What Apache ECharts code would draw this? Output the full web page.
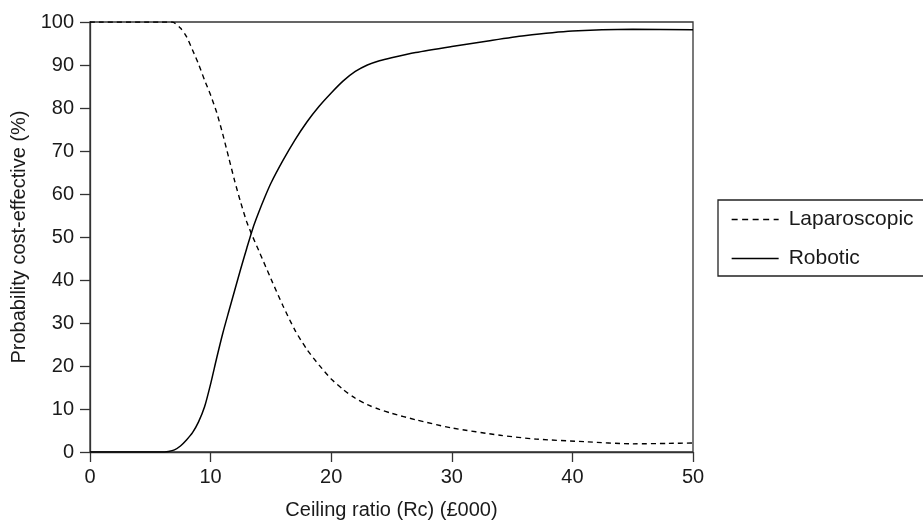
<!DOCTYPE html>
<html>
<head>
<meta charset="utf-8">
<script src="https://cdn.jsdelivr.net/npm/echarts@6/dist/echarts.min.js"></script>
<style>html,body{margin:0;padding:0;background:#fff}#c{width:923px;height:525px}</style>
</head>
<body>
<div id="c"></div>
<script>
const xTicks = [0, 10, 20, 30, 40, 50];
const yTicks = [0, 10, 20, 30, 40, 50, 60, 70, 80, 90, 100];
const seriesNames = ['Laparoscopic', 'Robotic'];
const laparoscopic = [[0,100],[6.8,100],[7.5,98.6],[8,96.6],[8.5,93.5],[9,90.2],[9.5,86.5],[10,83],[10.5,79],[11,74],[11.5,68.5],[12,63],[12.5,58],[13,53.5],[13.5,50],[14,46.8],[15,40.3],[16,34],[17,28.3],[18,23.8],[19,20.2],[20,17],[21,14.5],[22,12.5],[23,11],[24,9.9],[25,9],[27,7.5],[30,5.6],[34,3.9],[37,3],[41,2.4],[45,1.9],[48,2],[50,2.1]];
const robotic = [[0,0],[6.2,0],[6.5,0.1],[7,0.5],[7.5,1.4],[8,2.8],[8.5,4.5],[9,7],[9.5,10.5],[10,15.8],[10.5,21.8],[11,27.5],[11.5,32.6],[12,37.6],[12.5,42.6],[13,47.4],[13.5,52],[14,55.8],[14.5,59.3],[15,62.5],[16,67.8],[17,72.6],[18,76.8],[19,80.4],[20,83.5],[21,86.3],[22,88.5],[23,90],[24,91],[25,91.7],[27,92.9],[30,94.3],[33,95.6],[36,96.8],[40,97.9],[45,98.3],[50,98.2]];

const FONT = 'Liberation Sans, Arial, Helvetica, sans-serif';
const TXT = '#1a1a1a';
const AX = '#333';
const chart = echarts.init(document.getElementById('c'), null, {renderer: 'canvas'});
chart.setOption({
  animation: false,
  backgroundColor: '#fff',
  textStyle: {fontFamily: FONT, color: TXT},
  grid: {left: 90, right: 230, top: 22, bottom: 72, show: true, borderColor: AX, borderWidth: 1.3, backgroundColor: 'transparent'},
  legend: {
    orient: 'vertical',
    left: 718, top: 200,
    padding: [9, 24, 7, 13],
    itemWidth: 47, itemHeight: 14, itemGap: 18,
    borderColor: '#222', borderWidth: 1.3,
    itemStyle: {color: 'rgba(0,0,0,0)', borderWidth: 0, opacity: 0},
    textStyle: {fontFamily: FONT, fontSize: 21, color: TXT, padding: [0, 0, 0, 5]},
    data: [
      {name: seriesNames[0], lineStyle: {type: [6, 4.5], width: 1.3, color: '#000'}},
      {name: seriesNames[1], lineStyle: {type: 'solid', width: 1.3, color: '#000'}}
    ]
  },
  xAxis: {
    type: 'value', min: xTicks[0], max: xTicks[xTicks.length-1], interval: 10,
    name: 'Ceiling ratio (Rc) (£000)', nameLocation: 'middle', nameGap: 48,
    nameTextStyle: {fontFamily: FONT, fontSize: 20, color: TXT},
    axisLine: {show: true, onZero: false, lineStyle: {color: AX, width: 1.3}},
    axisTick: {show: true, inside: false, length: 10, lineStyle: {color: AX, width: 1.3}},
    axisLabel: {fontFamily: FONT, fontSize: 20, color: TXT, margin: 15},
    splitLine: {show: false}
  },
  yAxis: {
    type: 'value', min: yTicks[0], max: yTicks[yTicks.length-1], interval: 10,
    name: 'Probability cost-effective (%)', nameLocation: 'middle', nameGap: 58,
    nameTextStyle: {fontFamily: FONT, fontSize: 20, color: TXT},
    axisLine: {show: true, onZero: false, lineStyle: {color: AX, width: 1.3}},
    axisTick: {show: true, inside: false, length: 10, lineStyle: {color: AX, width: 1.3}},
    axisLabel: {fontFamily: FONT, fontSize: 20, color: TXT, margin: 16},
    splitLine: {show: false}
  },
  series: [
    {name: seriesNames[0], type: 'line', data: laparoscopic, symbol: 'none', smooth: 0.25,
     itemStyle: {color: '#000'}, lineStyle: {color: '#000', width: 1.4, type: [5, 4]}},
    {name: seriesNames[1], type: 'line', data: robotic, symbol: 'none', smooth: 0.25,
     itemStyle: {color: '#000'}, lineStyle: {color: '#000', width: 1.5, type: 'solid'}}
  ]
});
</script>
</body>
</html>
